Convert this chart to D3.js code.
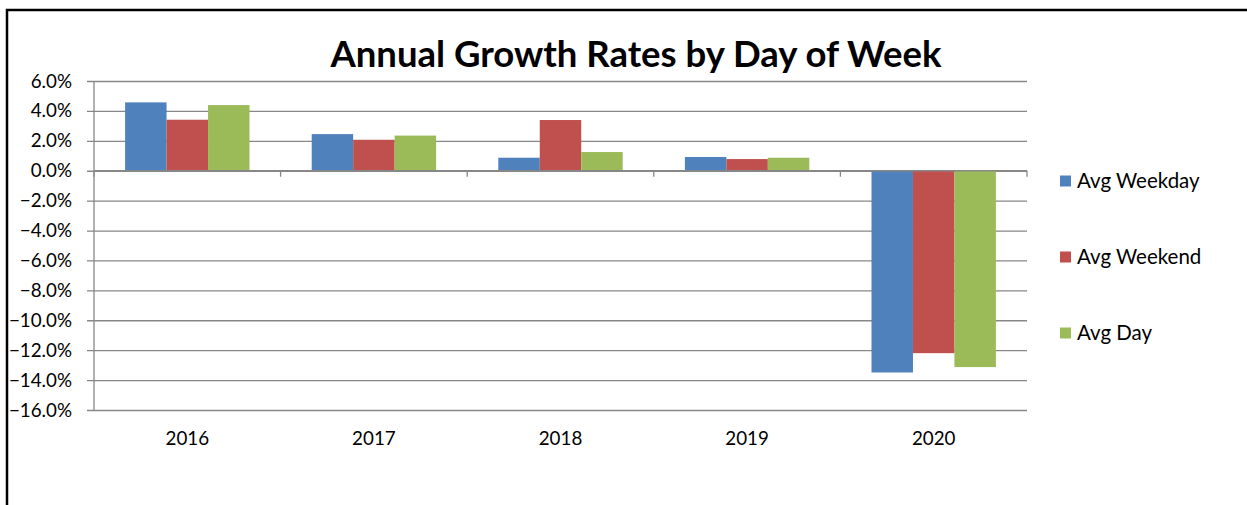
<!DOCTYPE html>
<html>
<head>
<meta charset="utf-8">
<script src="https://cdn.jsdelivr.net/npm/d3@7"></script>
<style>
  html, body { margin: 0; padding: 0; background: #fff; overflow: hidden; }
  svg { display: block; font-family: Lato, "Open Sans", sans-serif; }
</style>
</head>
<body>
<svg id="chart" width="1247" height="505"></svg>
<script>
const title = "Annual Growth Rates by Day of Week";
const categories = ["2016", "2017", "2018", "2019", "2020"];
const seriesNames = ["Avg Weekday", "Avg Weekend", "Avg Day"];
const seriesColors = ["#4F81BD", "#C0504D", "#9BBB59"];
const avgWeekday = [0.0457, 0.0245, 0.0087, 0.0092, -0.1349];
const avgWeekend = [0.0341, 0.0207, 0.0339, 0.0078, -0.1220];
const avgDay     = [0.0439, 0.0235, 0.0125, 0.0087, -0.1313];
const yTicks = [0.06, 0.04, 0.02, 0.00, -0.02, -0.04, -0.06, -0.08, -0.10, -0.12, -0.14, -0.16];

const seriesValues = [avgWeekday, avgWeekend, avgDay];

const svg = d3.select("#chart");
const plot = { left: 94, right: 1027, top: 81, bottom: 410 };
const gridColor = "#878787";

// chart border (only top and left edges visible in the frame)
svg.append("path")
  .attr("d", "M7,520 L7,10 L1260,10")
  .attr("fill", "none").attr("stroke", "#000").attr("stroke-width", 2.5);

const y = d3.scaleLinear().domain([-0.16, 0.06]).range([plot.bottom, plot.top]);
const x0 = d3.scaleBand().domain(categories).range([plot.left, plot.right]).paddingInner(0).paddingOuter(0);
const x1 = d3.scaleBand().domain(seriesNames).range([0, x0.bandwidth()]).paddingInner(0).paddingOuter(0.75);

// y axis with gridlines
const yAxis = d3.axisLeft(y).tickValues(yTicks).tickFormat(d3.format(".1%"))
  .tickSize(-(plot.right - plot.left)).tickPadding(15);
const yg = svg.append("g").attr("transform", `translate(${plot.left},0)`).call(yAxis);
yg.select(".domain").remove();
yg.selectAll(".tick line").attr("stroke", gridColor).attr("stroke-width", 1.3)
  .attr("x1", -7);
yg.selectAll(".tick text").attr("font-size", 18.8).attr("fill", "#000")
  .attr("font-family", "Lato, sans-serif").attr("x", -22);
// vertical axis line
svg.append("line")
  .attr("x1", plot.left).attr("x2", plot.left)
  .attr("y1", y(0.06)).attr("y2", y(-0.16))
  .attr("stroke", gridColor).attr("stroke-width", 1.3);

// bars
const rows = categories.map((c, i) => ({ cat: c, vals: seriesNames.map((s, j) => ({ s, j, v: seriesValues[j][i] })) }));
const groups = svg.append("g").selectAll("g").data(rows).join("g")
  .attr("transform", d => `translate(${x0(d.cat)},0)`);
groups.selectAll("rect").data(d => d.vals).join("rect")
  .attr("x", d => x1(d.s))
  .attr("width", x1.bandwidth())
  .attr("y", d => y(Math.max(0, d.v)))
  .attr("height", d => Math.abs(y(d.v) - y(0)))
  .attr("fill", d => seriesColors[d.j]);

// category axis at zero
const xAxis = d3.axisBottom(x0).tickSize(0).tickFormat("");
const xg = svg.append("g").attr("transform", `translate(0,${y(0)})`).call(xAxis);
xg.select(".domain").remove();
svg.append("line")
  .attr("x1", plot.left).attr("x2", plot.right)
  .attr("y1", y(0)).attr("y2", y(0))
  .attr("stroke", gridColor).attr("stroke-width", 1.3);
const tickPositions = categories.map(c => x0(c)).concat([x0(categories[categories.length - 1]) + x0.bandwidth()]);
svg.append("g").selectAll("line").data(tickPositions).join("line")
  .attr("x1", d => d).attr("x2", d => d)
  .attr("y1", y(0)).attr("y2", y(0) + 6)
  .attr("stroke", gridColor).attr("stroke-width", 1.3);

// category labels below plot
svg.append("g").selectAll("text").data(categories).join("text")
  .attr("x", d => x0(d) + x0.bandwidth() / 2)
  .attr("y", 445)
  .attr("text-anchor", "middle")
  .attr("font-size", 18.8)
  .attr("fill", "#000")
  .text(d => d);

// title
svg.append("text")
  .attr("x", 636).attr("y", 67)
  .attr("text-anchor", "middle")
  .attr("font-size", 36.5)
  .attr("font-weight", "bold")
  .attr("fill", "#000")
  .text(title);

// legend
const legendY = [181, 257, 333];
const lg = svg.append("g").selectAll("g").data(seriesNames).join("g")
  .attr("transform", (d, i) => `translate(1060,${legendY[i]})`);
lg.append("rect").attr("x", 0).attr("y", -5.5).attr("width", 11).attr("height", 11)
  .attr("fill", (d, i) => seriesColors[i]);
lg.append("text").attr("x", 17).attr("y", 6.5)
  .attr("font-size", 20.5).attr("fill", "#000").text(d => d);
</script>
</body>
</html>
